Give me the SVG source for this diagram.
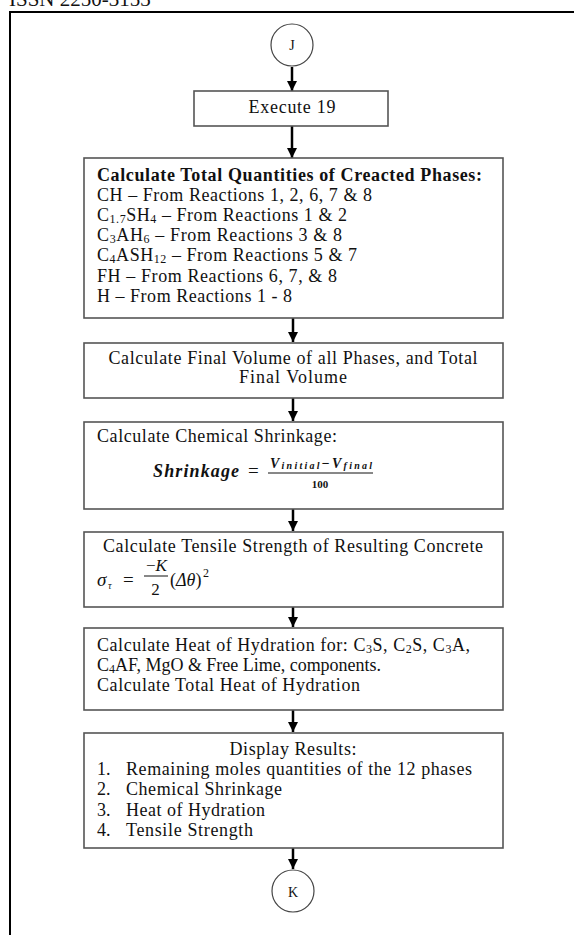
<svg xmlns="http://www.w3.org/2000/svg" width="574" height="935" viewBox="0 0 574 935">
  <style>
    text { font-family: "Liberation Serif", "Times New Roman", serif; fill: #111; }
    .t { font-size: 18px; }
    .b { font-weight: bold; }
    .c { text-anchor: middle; }
    .sub { font-size: 12px; }
    .box { fill: #fff; stroke: #555; stroke-width: 1.6; }
    .node { fill: #fff; stroke: #444; stroke-width: 1.2; }
    .arrow { stroke: #000; stroke-width: 2.5; fill: none; marker-end: url(#head); }
    .frame { stroke: #000; stroke-width: 2; fill: none; }
    .mi { font-style: italic; }
  </style>
  <defs>
    <marker id="head" markerUnits="userSpaceOnUse" markerWidth="10" markerHeight="10" refX="10" refY="5" orient="auto">
      <path d="M0,0 L10,5 L0,10 z" fill="#000"/>
    </marker>
  </defs>

  <!-- page header and frame -->
  <text x="9" y="6" font-size="21">ISSN 2250-3153</text>
  <path class="frame" d="M10,935 V12 H574"/>

  <!-- connectors -->
  <g id="connectors">
    <line class="arrow" x1="292" y1="67" x2="292" y2="91"/>
    <line class="arrow" x1="292" y1="126" x2="292" y2="158"/>
    <line class="arrow" x1="293" y1="318" x2="293" y2="342"/>
    <line class="arrow" x1="293" y1="398" x2="293" y2="421"/>
    <line class="arrow" x1="293" y1="509" x2="293" y2="531"/>
    <line class="arrow" x1="293" y1="607" x2="293" y2="627"/>
    <line class="arrow" x1="293" y1="710" x2="293" y2="732"/>
    <line class="arrow" x1="293" y1="848" x2="293" y2="869"/>
  </g>

  <!-- connector J -->
  <g id="node-j">
    <circle class="node" cx="292" cy="45" r="21"/>
    <text class="c" x="292" y="50" font-size="14">J</text>
  </g>

  <g id="node-execute">
    <rect class="box" x="194" y="91" width="194" height="35"/>
    <text class="t c" x="292" y="113" textLength="87">Execute 19</text>
  </g>

  <g id="node-quantities">
    <rect class="box" x="84" y="158" width="419" height="160"/>
    <text class="t b" x="97" y="181" textLength="385">Calculate Total Quantities of Creacted Phases:</text>
    <text class="t" x="97" y="201" textLength="275">CH – From Reactions 1, 2, 6, 7 &amp; 8</text>
    <text class="t" x="97" y="221" textLength="250">C<tspan class="sub" dy="2">1.7</tspan><tspan dy="-2">SH</tspan><tspan class="sub" dy="2">4</tspan><tspan dy="-2"> – From Reactions 1 &amp; 2</tspan></text>
    <text class="t" x="97" y="241" textLength="245">C<tspan class="sub" dy="2">3</tspan><tspan dy="-2">AH</tspan><tspan class="sub" dy="2">6</tspan><tspan dy="-2"> – From Reactions 3  &amp; 8</tspan></text>
    <text class="t" x="97" y="261" textLength="260">C<tspan class="sub" dy="2">4</tspan><tspan dy="-2">ASH</tspan><tspan class="sub" dy="2">12</tspan><tspan dy="-2"> – From Reactions 5 &amp; 7</tspan></text>
    <text class="t" x="97" y="282" textLength="240">FH – From Reactions 6, 7, &amp; 8</text>
    <text class="t" x="97" y="302" textLength="195">H – From Reactions 1 - 8</text>
  </g>

  <g id="node-volume">
    <rect class="box" x="84" y="343" width="419" height="55"/>
    <text class="t c" x="293" y="364" textLength="369">Calculate Final Volume of all Phases, and Total</text>
    <text class="t c" x="293" y="383" textLength="108">Final Volume</text>
  </g>

  <g id="node-shrinkage">
    <rect class="box" x="84" y="422" width="419" height="87"/>
    <text class="t" x="97" y="442" textLength="240">Calculate Chemical Shrinkage:</text>
    <text class="mi b" x="153" y="477" font-size="18" textLength="86">Shrinkage</text>
    <text x="248" y="477" font-size="19">=</text>
    <text class="mi b" x="270" y="468" font-size="14" textLength="102">V<tspan font-size="10" dy="1">initial</tspan><tspan dy="-1" font-style="normal">−</tspan>V<tspan font-size="10" dy="1">final</tspan></text>
    <line x1="268" y1="473" x2="373" y2="473" stroke="#111" stroke-width="1"/>
    <text class="b c" x="320" y="488" font-size="11">100</text>
  </g>

  <g id="node-tensile">
    <rect class="box" x="84" y="532" width="419" height="75"/>
    <text class="t c" x="293" y="552" textLength="380">Calculate Tensile Strength of Resulting Concrete</text>
    <text class="mi" x="97" y="586" font-size="19">σ</text>
    <text class="mi" x="108" y="589" font-size="10">τ</text>
    <text x="123" y="586" font-size="19">=</text>
    <text x="146" y="571" font-size="17">−<tspan font-style="italic">K</tspan></text>
    <line x1="144" y1="576" x2="168" y2="576" stroke="#111" stroke-width="1"/>
    <text class="c" x="155.5" y="595" font-size="17">2</text>
    <text x="170" y="586" font-size="18">(<tspan font-style="italic">Δθ</tspan>)</text>
    <text x="203" y="577" font-size="12">2</text>
  </g>

  <g id="node-heat">
    <rect class="box" x="84" y="628" width="419" height="82"/>
    <text class="t" x="97" y="651" textLength="373">Calculate Heat of Hydration for: C<tspan class="sub" dy="1.5">3</tspan><tspan dy="-1.5">S, C</tspan><tspan class="sub" dy="1.5">2</tspan><tspan dy="-1.5">S, C</tspan><tspan class="sub" dy="1.5">3</tspan><tspan dy="-1.5">A,</tspan></text>
    <text class="t" x="97" y="671" textLength="284">C<tspan class="sub" dy="1.5">4</tspan><tspan dy="-1.5">AF, MgO &amp; Free Lime, components.</tspan></text>
    <text class="t" x="97" y="691" textLength="263">Calculate Total Heat of Hydration</text>
  </g>

  <g id="node-results">
    <rect class="box" x="84" y="733" width="419" height="115"/>
    <text class="t c" x="293" y="755" textLength="127">Display Results:</text>
    <text class="t" x="97" y="775">1.</text>
    <text class="t" x="126" y="775" textLength="346">Remaining moles quantities of the 12 phases</text>
    <text class="t" x="97" y="795">2.</text>
    <text class="t" x="126" y="795" textLength="156">Chemical Shrinkage</text>
    <text class="t" x="97" y="816">3.</text>
    <text class="t" x="126" y="816" textLength="139">Heat of Hydration</text>
    <text class="t" x="97" y="836">4.</text>
    <text class="t" x="126" y="836" textLength="127">Tensile Strength</text>
  </g>

  <!-- connector K -->
  <g id="node-k">
    <circle class="node" cx="293" cy="891" r="21"/>
    <text class="c" x="293" y="897" font-size="14">K</text>
  </g>
</svg>
